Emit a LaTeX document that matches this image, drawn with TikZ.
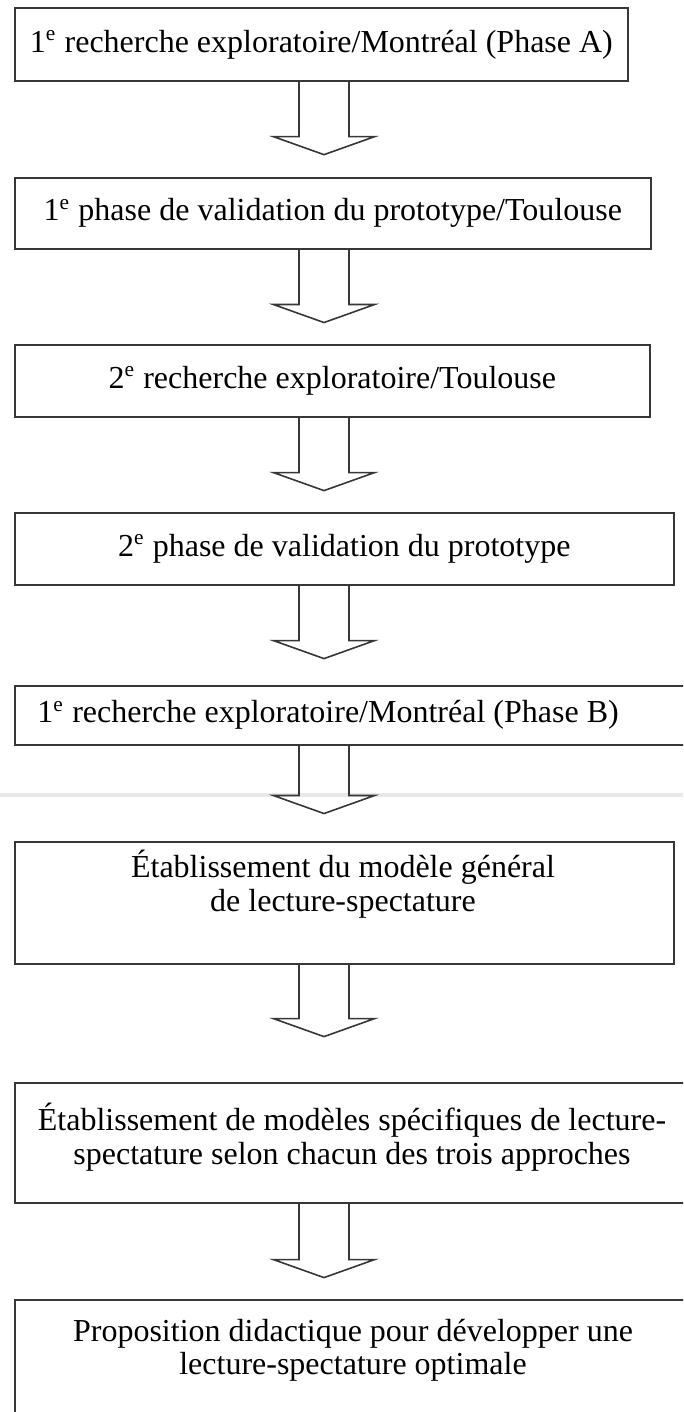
\documentclass[tikz,border=0pt]{standalone}
\usepackage{fontspec}
\setmainfont{Liberation Serif}
\usetikzlibrary{positioning}
\definecolor{inkgray}{RGB}{55,55,55}
\definecolor{scangray}{RGB}{232,232,232}

% hollow block arrow hanging below a box
\newcommand{\flowarrow}[2]{%
  \draw[blockarrow] (#1.south -| shaftL) -- ++(0,#2) -- ++(-25.5,0) -- ++(50.5,18) -- ++(50.5,-18) -- ++(-25.5,0) -- (#1.south -| shaftR);}

\begin{document}
\begin{tikzpicture}[
    x=0.375pt, y=-0.375pt,
    every node/.style={align=center, font=\fontsize{12}{12.5}\selectfont},
    box/.style={rectangle, draw=inkgray, line width=0.6pt, inner sep=0pt, anchor=north west},
    txt/.style={inner sep=0pt, text=black},
    blockarrow/.style={draw=inkgray, line width=0.6pt, line join=miter},
    scan/.style={draw=scangray, line width=1.2pt}
]
    \useasboundingbox (0,0) rectangle (683,1412);
    \clip (0,0) rectangle (683,1412);

    % scanner streak
    \draw[scan] (0,795) -- (683,795);

    \coordinate (shaftL) at (299,0);
    \coordinate (shaftR) at (349,0);

    % Steps
    \node[box, minimum width=229.9pt, minimum height=27.4pt] (b1) at (14,7) {1\textsuperscript{e} recherche exploratoire/Montréal (Phase A)};
    \node[box, minimum width=238.5pt, minimum height=26.6pt] (b2) at (14,177) {1\textsuperscript{e} phase de validation du prototype/Toulouse};
    \node[box, minimum width=238.1pt, minimum height=27pt] (b3) at (14,344) {2\textsuperscript{e} recherche exploratoire/Toulouse};
    \node[box, minimum width=247.1pt, minimum height=27pt] (b4) at (14,512) {2\textsuperscript{e} phase de validation du prototype};
    \node[box, minimum width=257.3pt, minimum height=22.1pt] (b5) at (14,685) {};
    \node[txt, anchor=west] (t5) at ([xshift=8.6pt]b5.west) {1\textsuperscript{e} recherche exploratoire/Montréal (Phase B)};

    \node[box, minimum width=247.1pt, minimum height=45.75pt] (b6) at (14,841) {};
    \node[txt] (t6) at (343,884) {Établissement du modèle général\\de lecture-spectature};

    \node[box, minimum width=253.5pt, minimum height=45pt] (b7) at (14,1082) {};
    \node[txt] (t7) at (352,1137) {Établissement de modèles spécifiques de lecture-\\spectature selon chacun des trois approches};

    \node[box, minimum width=253.5pt, minimum height=60pt] (b8) at (14,1299) {};
    \node[txt] (t8) at (353,1350) {Proposition didactique pour développer une\\lecture-spectature optimale};

    % Arrows
    \flowarrow{b1}{55}
    \flowarrow{b2}{55}
    \flowarrow{b3}{55}
    \flowarrow{b4}{55}
    \flowarrow{b5}{50}
    \flowarrow{b6}{54}
    \flowarrow{b7}{56}
\end{tikzpicture}
\end{document}
